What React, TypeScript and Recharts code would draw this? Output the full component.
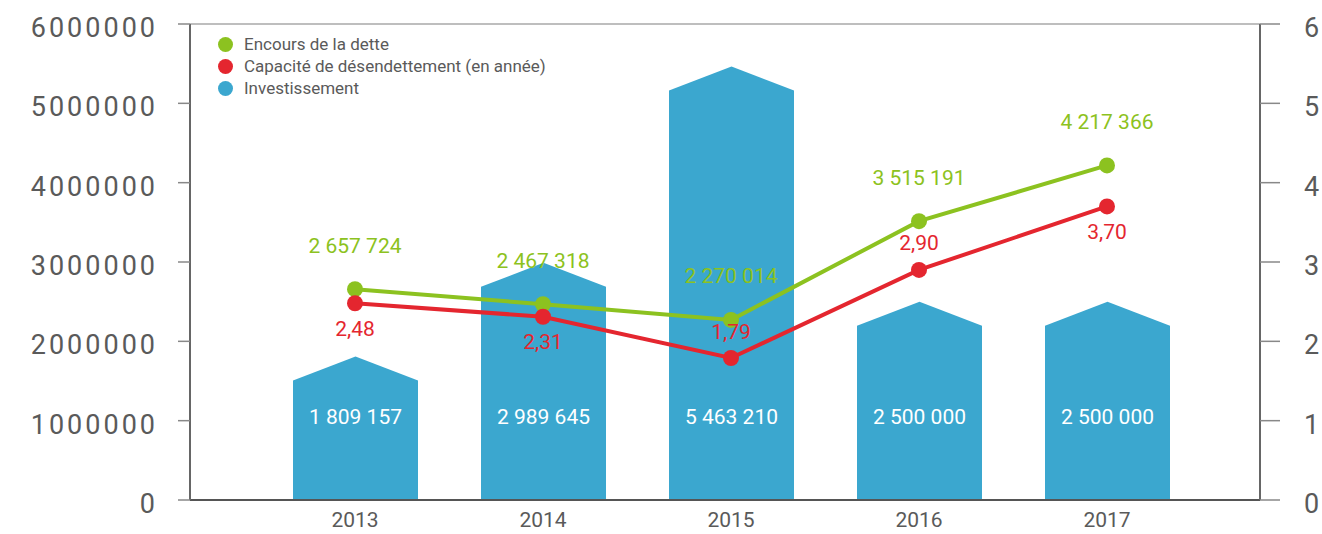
import {
  ComposedChart,
  Bar,
  Line,
  XAxis,
  YAxis,
  CartesianGrid,
  LabelList,
} from "recharts";

const years = ["2013", "2014", "2015", "2016", "2017"];
const investissement = [1809157, 2989645, 5463210, 2500000, 2500000];
const encours = [2657724, 2467318, 2270014, 3515191, 4217366];
const capacite = [2.48, 2.31, 1.79, 2.9, 3.7];

const leftTicks = [0, 1000000, 2000000, 3000000, 4000000, 5000000, 6000000];
const rightTicks = [0, 1, 2, 3, 4, 5, 6];

const BLUE = "#3ba7cf";
const GREEN = "#8cc220";
const RED = "#e4262f";
const GREY_TEXT = "#5a5a5a";
const FONT = "Roboto, sans-serif";

const data = years.map((year, i) => ({
  year,
  investissement: investissement[i],
  encours: encours[i],
  capacite: capacite[i],
}));

const fmtSpaces = (v: number) =>
  Math.round(v)
    .toString()
    .replace(/\B(?=(\d{3})+(?!\d))/g, " ");

const fmtComma = (v: number) => v.toFixed(2).replace(".", ",");

function HouseBar(props: any) {
  const { x, y, width, height } = props;
  if (!height) return null;
  const roof = 24;
  const bottom = y + height;
  const d = `M${x},${bottom} L${x},${y + roof} L${x + width / 2},${y} L${
    x + width
  },${y + roof} L${x + width},${bottom} Z`;
  return <path d={d} fill={BLUE} />;
}

function BarValue(props: any) {
  const { x, y, width, height, value } = props;
  return (
    <text
      x={x + width / 2}
      y={y + height - 82}
      textAnchor="middle"
      dominantBaseline="middle"
      fill="#ffffff"
      fontSize={21}
      fontFamily={FONT}
    >
      {fmtSpaces(value)}
    </text>
  );
}

function GreenValue(props: any) {
  const { x, y, value } = props;
  return (
    <text
      x={x}
      y={y - 42}
      textAnchor="middle"
      dominantBaseline="middle"
      fill={GREEN}
      fontSize={21}
      fontFamily={FONT}
    >
      {fmtSpaces(value)}
    </text>
  );
}

// red labels sit under the point, except 2015 and 2016
function RedValue(props: any) {
  const { x, y, value, index } = props;
  const above = index === 2 || index === 3;
  return (
    <text
      x={x}
      y={above ? y - 25 : y + 27}
      textAnchor="middle"
      dominantBaseline="middle"
      fill={RED}
      fontSize={21}
      fontFamily={FONT}
    >
      {fmtComma(value)}
    </text>
  );
}

function LeftTick(props: any) {
  const { x, y, payload } = props;
  return (
    <text
      x={x}
      y={y + 6}
      textAnchor="end"
      dominantBaseline="middle"
      fill={GREY_TEXT}
      fontSize={27}
      letterSpacing={3}
      fontFamily={FONT}
    >
      {payload.value}
    </text>
  );
}

function RightTick(props: any) {
  const { x, y, payload } = props;
  return (
    <text
      x={x}
      y={y + 6}
      textAnchor="start"
      dominantBaseline="middle"
      fill={GREY_TEXT}
      fontSize={27}
      fontFamily={FONT}
    >
      {payload.value}
    </text>
  );
}

const legendItems = [
  { label: "Encours de la dette", color: GREEN },
  { label: "Capacité de désendettement (en année)", color: RED },
  { label: "Investissement", color: BLUE },
];

function LegendBox() {
  return (
    <div
      style={{
        position: "absolute",
        left: 218,
        top: 33,
        fontFamily: FONT,
        fontSize: 17,
        color: GREY_TEXT,
      }}
    >
      {legendItems.map((it) => (
        <div
          key={it.label}
          style={{ display: "flex", alignItems: "center", height: 22 }}
        >
          <span
            style={{
              width: 15,
              height: 15,
              borderRadius: "50%",
              background: it.color,
              display: "inline-block",
              marginRight: 11,
            }}
          />
          {it.label}
        </div>
      ))}
    </div>
  );
}

export default function App() {
  return (
    <div style={{ position: "absolute", left: 0, top: 0, background: "#fff" }}>
      <ComposedChart
        width={1322}
        height={534}
        data={data}
        margin={{ top: 24, right: 0, bottom: 0, left: 0 }}
      >
        <CartesianGrid vertical={false} stroke="#a8a8a8" strokeWidth={1.5} />
        <XAxis
          dataKey="year"
          height={34}
          padding={{ left: 71, right: 59 }}
          axisLine={{ stroke: "#555", strokeWidth: 2 }}
          tickLine={false}
          tick={{ fill: GREY_TEXT, fontSize: 21, fontFamily: FONT, dy: 4 }}
        />
        <YAxis
          yAxisId="left"
          width={190}
          domain={[0, 6000000]}
          ticks={leftTicks}
          interval={0}
          axisLine={{ stroke: "#666", strokeWidth: 2 }}
          tickLine={{ stroke: "#888", strokeWidth: 1.5 }}
          tickSize={12}
          tickMargin={20}
          tick={<LeftTick />}
        />
        <YAxis
          yAxisId="right"
          orientation="right"
          width={62}
          domain={[0, 6]}
          ticks={rightTicks}
          interval={0}
          axisLine={{ stroke: "#666", strokeWidth: 2 }}
          tickLine={{ stroke: "#888", strokeWidth: 1.5 }}
          tickSize={20}
          tickMargin={24}
          tick={<RightTick />}
        />
        <Bar
          yAxisId="left"
          dataKey="investissement"
          name="Investissement"
          barSize={125}
          shape={<HouseBar />}
          isAnimationActive={false}
        >
          <LabelList dataKey="investissement" content={<BarValue />} />
        </Bar>
        <Line
          yAxisId="left"
          dataKey="encours"
          name="Encours de la dette"
          stroke={GREEN}
          strokeWidth={4}
          dot={{ r: 8, fill: GREEN, stroke: "none" }}
          isAnimationActive={false}
        >
          <LabelList dataKey="encours" content={<GreenValue />} />
        </Line>
        <Line
          yAxisId="right"
          dataKey="capacite"
          name="Capacité de désendettement (en année)"
          stroke={RED}
          strokeWidth={4}
          dot={{ r: 8, fill: RED, stroke: "none" }}
          isAnimationActive={false}
        >
          <LabelList dataKey="capacite" content={<RedValue />} />
        </Line>
      </ComposedChart>
      <LegendBox />
    </div>
  );
}
